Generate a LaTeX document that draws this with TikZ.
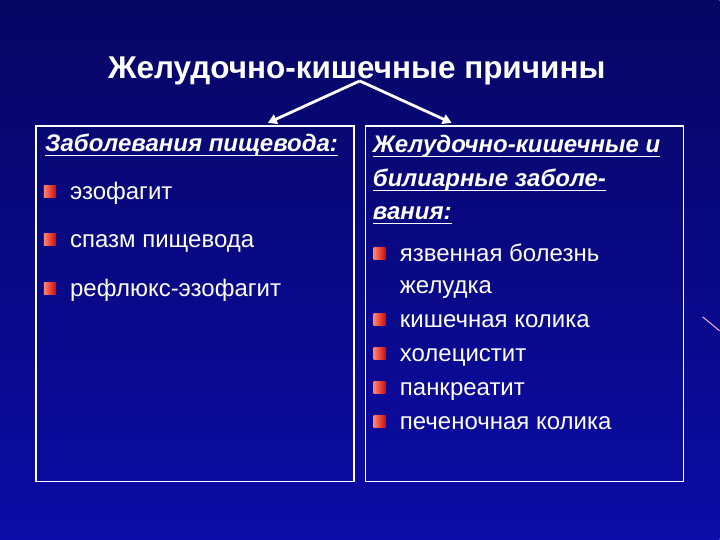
\documentclass[tikz,border=0pt]{standalone}
\usepackage{fontspec}
\setmainfont{Liberation Sans}
\usetikzlibrary{arrows.meta}

\newcommand{\ulbox}[1]{\setbox0=\hbox{#1}\rlap{\rule[-4.4pt]{\wd0}{1.6pt}}\box0}

\definecolor{bgtop}{RGB}{6,6,100}
\definecolor{bgmid}{RGB}{10,10,148}
\definecolor{bgbot}{RGB}{12,12,168}
\definecolor{mkhi}{RGB}{255,130,110}
\definecolor{mklo}{RGB}{205,10,10}

\tikzset{
  item/.style={anchor=base west,text=white,inner sep=0pt,font=\fontsize{24}{28}\selectfont},
  head/.style={item,font=\fontsize{24}{28}\selectfont\bfseries\itshape},
  bullet/.style={rectangle,inner sep=0pt,minimum size=12pt,left color=mkhi,right color=mklo},
  box/.style={draw=white,line width=1.5pt,inner sep=0pt},
  arr/.style={draw=white,line width=2.8pt,-{Triangle[length=9pt,width=10pt]}}
}

\begin{document}
\begin{tikzpicture}[x=1pt,y=-1pt]
\shade[top color=bgtop,middle color=bgmid,bottom color=bgbot] (0,0) rectangle (720,540);
\draw[white!70!magenta,line width=1pt] (703,317) -- (720,331);
\useasboundingbox (0,0) rectangle (720,540);
\node[anchor=base,text=white,inner sep=0pt,font=\fontsize{31.5}{36}\selectfont\bfseries] at (357,79) (title) {Желудочно-кишечные причины};
\node[box,minimum width=318pt,minimum height=356pt] at (195,304) (lbox) {};
\node[box,minimum width=318pt,minimum height=356pt] at (525,304) (rbox) {};
\coordinate (apex) at (360,81);
\coordinate (tipl) at (268,123);
\coordinate (tipr) at (452,123);
\draw[arr] (apex) -- (tipl);
\draw[arr] (apex) -- (tipr);
% left column
\node[head] at (45,152) (lhead) {\ulbox{Заболевания пищевода:}};
\node[bullet] at (50,192) (lb1) {};
\node[item] at (70,200) (l1) {эзофагит};
\node[bullet] at (50,240) (lb2) {};
\node[item] at (70,248) (l2) {спазм пищевода};
\node[bullet] at (50,289) (lb3) {};
\node[item] at (70,297) (l3) {рефлюкс-эзофагит};
% right column
\node[head] at (373,153) (rhead1) {\ulbox{Желудочно-кишечные и}};
\node[head] at (373,187) (rhead2) {\ulbox{билиарные заболе-}};
\node[head] at (373,220) (rhead3) {\ulbox{вания:}};
\node[bullet] at (380,254) (rb1) {};
\node[item] at (400,262) (r1) {язвенная болезнь};
\node[item] at (400,294) (r1b) {желудка};
\node[bullet] at (380,320) (rb2) {};
\node[item] at (400,328) (r2) {кишечная колика};
\node[bullet] at (380,354) (rb3) {};
\node[item] at (400,362) (r3) {холецистит};
\node[bullet] at (380,388) (rb4) {};
\node[item] at (400,396) (r4) {панкреатит};
\node[bullet] at (380,422) (rb5) {};
\node[item] at (400,430) (r5) {печеночная колика};
\end{tikzpicture}
\end{document}
